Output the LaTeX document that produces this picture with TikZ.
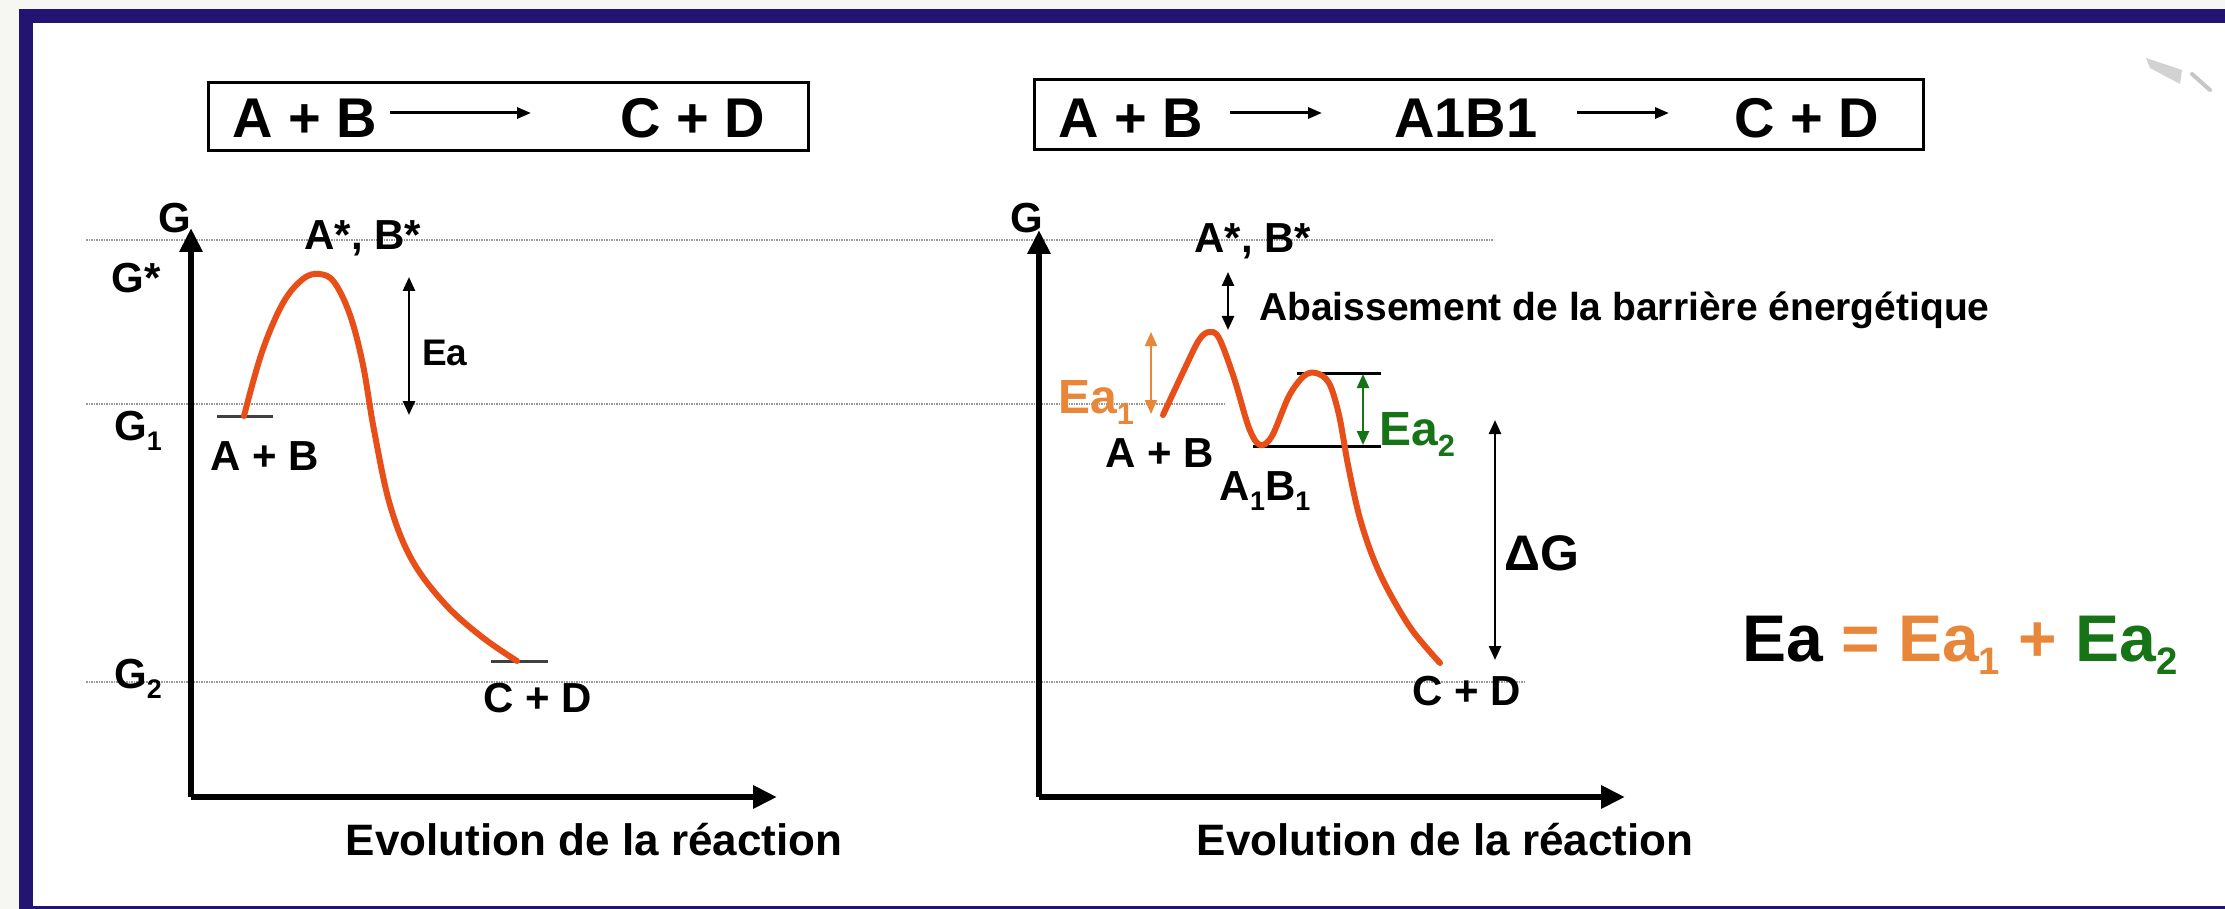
\documentclass[tikz,border=0pt]{standalone}
\usepackage{fontspec}
\setmainfont{Liberation Sans}
\usetikzlibrary{arrows.meta}
\definecolor{frameblue}{RGB}{35,20,115}
\definecolor{curvecol}{RGB}{232,78,24}
\definecolor{oran}{RGB}{232,135,58}
\definecolor{grn}{RGB}{22,115,22}
\definecolor{outerbg}{RGB}{246,246,243}
\newcommand\FS[1]{\fontsize{#1}{#1}\selectfont}
\newcommand\mysub[1]{\raisebox{-0.24em}{\scalebox{0.64}{#1}}}
\begin{document}
\begin{tikzpicture}[x=1pt,y=-1pt,
  lbl/.style={inner sep=0pt, font=\FS{42pt}\bfseries, anchor=base},
  boxt/.style={inner sep=0pt, font=\FS{56pt}\bfseries, anchor=base west},
  titlebox/.style={draw=black, line width=3pt, inner sep=0pt},
  dotline/.style={gray!80, line width=2.5pt, dash pattern=on 1.5pt off 1pt},
  axis/.style={line width=6pt, -{Triangle[length=24pt,width=22pt]}},
  dbl/.style={line width=2.5pt, {Triangle[length=14pt,width=12pt]}-{Triangle[length=14pt,width=12pt]}},
  boxarrow/.style={line width=3pt, -{Triangle[length=14pt,width=11pt]}},
  curve/.style={curvecol, line width=6pt, line cap=round, line join=round},
  level/.style={black!75, line width=3pt},
  hline/.style={black, line width=3pt}
]
\useasboundingbox (0,0) rectangle (2225,909);
% frame
\fill[outerbg] (0,0) rectangle (2225,909);
\fill[frameblue] (19,9) rectangle (2225,909);
\fill[white] (33,23) rectangle (2225,906);
% corner icon
\fill[gray!35] (2146,58) -- (2182,70) -- (2180,84) -- (2150,68) -- cycle;
\draw[gray!45, line width=4pt, line cap=round] (2192,74) -- (2210,90);

% title boxes
\node[titlebox, minimum width=600pt, minimum height=68pt] (box1) at (508,117) {};
\node[boxt] (b1ab) at (232,138) {A + B};
\node[boxt] (b1cd) at (620,138) {C + D};
\coordinate (b1s) at (390,113);
\coordinate (b1e) at (531,113);
\draw[boxarrow] (b1s) -- (b1e);

\node[titlebox, minimum width=889pt, minimum height=70pt] (box2) at (1478.5,115) {};
\node[boxt] (b2ab) at (1058,138) {A + B};
\node[boxt] (b2mid) at (1394,138) {A1B1};
\node[boxt] (b2cd) at (1734,138) {C + D};
\coordinate (b2s1) at (1230,113);
\coordinate (b2e1) at (1322,113);
\coordinate (b2s2) at (1577,113);
\coordinate (b2e2) at (1669,113);
\draw[boxarrow] (b2s1) -- (b2e1);
\draw[boxarrow] (b2s2) -- (b2e2);

% dotted guide lines
\draw[dotline] (86,240) -- (1493,240);
\draw[dotline] (86,404) -- (1225,404);
\draw[dotline] (86,682) -- (1526,682);

% ---------- left diagram ----------
\coordinate (o1) at (191,797);
\coordinate (ytip1) at (191,228);
\coordinate (xtip1) at (777,797);
\draw[axis] (o1) -- (ytip1);
\draw[axis] (o1) -- (xtip1);
\node[lbl] (gax1) at (175,233) {G};
\node[lbl] (gstar) at (136,293) {G*};
\node[lbl] (g1) at (138,440) {G\mysub{1}};
\node[lbl] (g2) at (138,688) {G\mysub{2}};
\node[lbl] (ts1) at (363,250) {A*, B*};
\node[lbl] (ab1) at (265,470) {A + B};
\node[lbl] (cd1) at (538,712) {C + D};
\node[lbl, anchor=base west, font=\FS{37pt}\bfseries] (ea) at (422,366) {Ea};
\node[lbl, font=\FS{44pt}\bfseries] (ev1) at (594,855) {Evolution de la réaction};

\draw[level] (217,416) -- (273,416);
\draw[level] (491,661) -- (548,661);
\draw[curve] plot[smooth, tension=0.6] coordinates {(244,416) (262,352) (283,303) (303,279) (319,274) (334,282) (350,315) (363,365) (374,430) (390,505) (412,560) (445,604) (482,637) (517,661)};
\coordinate (eat) at (409,277);
\coordinate (eab) at (409,415);
\draw[dbl] (eat) -- (eab);

% ---------- right diagram ----------
\coordinate (o2) at (1039,797);
\coordinate (ytip2) at (1039,230);
\coordinate (xtip2) at (1625,797);
\draw[axis] (o2) -- (ytip2);
\draw[axis] (o2) -- (xtip2);
\node[lbl] (gax2) at (1027,233) {G};
\node[lbl] (ts2) at (1253,253) {A*, B*};
\node[lbl, anchor=base west, font=\FS{39pt}\bfseries] (abais) at (1259,320) {Abaissement de la barrière énergétique};
\node[lbl, anchor=base west, font=\FS{48pt}\bfseries, text=oran] (ea1) at (1058,413) {Ea\mysub{1}};
\node[lbl, anchor=base west, font=\FS{48pt}\bfseries, text=grn] (ea2) at (1379,445) {Ea\mysub{2}};
\node[lbl] (ab2) at (1160,467) {A + B};
\node[lbl] (a1b1) at (1265,500) {A\mysub{1}B\mysub{1}};
\node[lbl, font=\FS{50pt}\bfseries] (dg) at (1542,570) {ΔG};
\node[lbl] (cd2) at (1467,705) {C + D};
\node[lbl, font=\FS{44pt}\bfseries] (ev2) at (1445,855) {Evolution de la réaction};

\draw[hline] (1297,373) -- (1381,373);
\draw[hline] (1253,446) -- (1381,446);
\draw[curve] plot[smooth, tension=0.55] coordinates {(1163,415) (1185,368) (1199,340) (1209,332) (1219,338) (1234,378) (1249,428) (1260,445) (1272,436) (1289,396) (1304,376) (1316,373) (1329,383) (1339,415) (1348,465) (1359,515) (1372,555) (1388,590) (1412,630) (1440,663)};

\coordinate (abt) at (1228,272);
\coordinate (abb) at (1228,330);
\draw[dbl] (abt) -- (abb);
\coordinate (e1t) at (1151,332);
\coordinate (e1b) at (1151,414);
\draw[dbl, oran, line width=2pt] (e1t) -- (e1b);
\coordinate (e2t) at (1363,374);
\coordinate (e2b) at (1363,445);
\draw[dbl, grn] (e2t) -- (e2b);
\coordinate (dgt) at (1495,420);
\coordinate (dgb) at (1495,660);
\draw[dbl] (dgt) -- (dgb);

% formula
\node[lbl, anchor=base west, font=\FS{66pt}\bfseries] (formula) at (1742,661) {Ea \textcolor{oran}{= Ea\raisebox{-0.2em}{\scalebox{0.58}{1}} +} \textcolor{grn}{Ea\raisebox{-0.2em}{\scalebox{0.58}{2}}}};
\end{tikzpicture}
\end{document}
